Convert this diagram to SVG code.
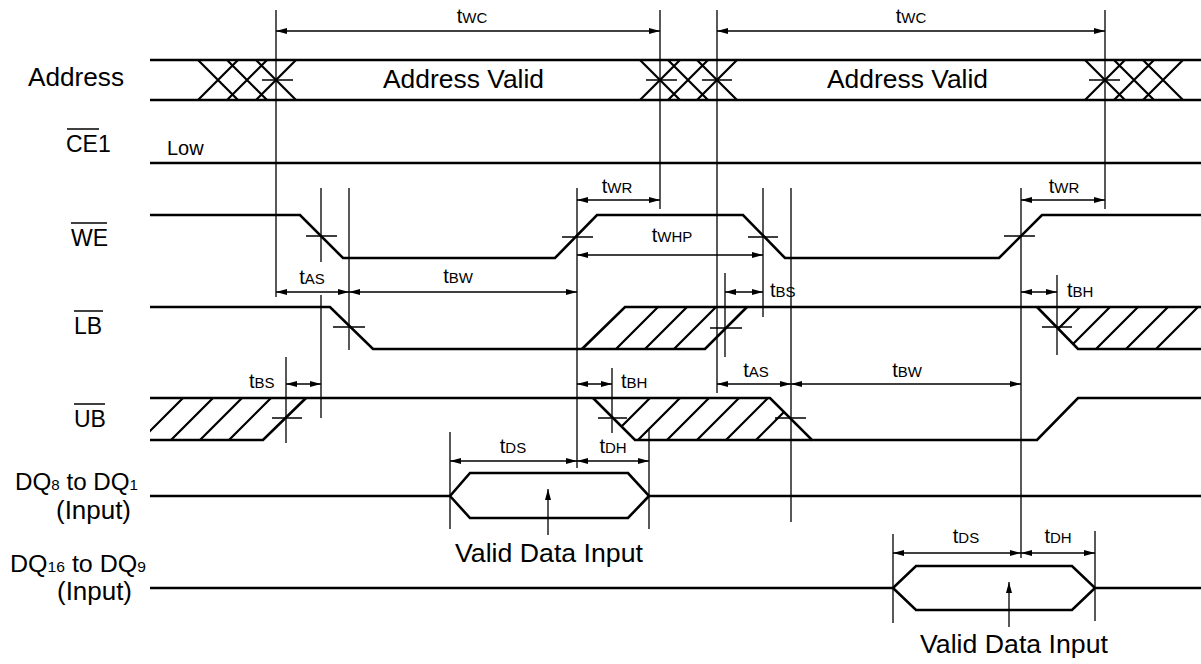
<svg xmlns="http://www.w3.org/2000/svg" width="1201" height="664" viewBox="0 0 1201 664">
<style>
.sig{fill:none;stroke:#000;stroke-width:2.6;stroke-linejoin:miter}
.hat{fill:none;stroke:#000;stroke-width:2.2}
.ref{fill:none;stroke:#000;stroke-width:1.3}
.dim{fill:none;stroke:#000;stroke-width:1.3;marker-start:url(#ah);marker-end:url(#ah)}
.up{fill:none;stroke:#000;stroke-width:1.3;marker-end:url(#ah)}
.ol{stroke:#000;stroke-width:1.5}
text{font-family:"Liberation Sans",Arial,sans-serif;fill:#000}
.lbl{font-size:23px}
.big{font-size:26px}
.t{font-size:20px}
.s{font-size:15px}
</style>
<defs>
<marker id="ah" viewBox="0 0 11 6" refX="11" refY="3" markerWidth="11" markerHeight="6" markerUnits="userSpaceOnUse" orient="auto-start-reverse"><path d="M0,0 L11,3 L0,6 z" fill="#000"/></marker>
<clipPath id="cUB1"><polygon points="150,398 306,398 263,440 150,440"/></clipPath>
<clipPath id="cLB1"><polygon points="582,349 625,307 747,307 705,349"/></clipPath>
<clipPath id="cLB2"><polygon points="1037,307 1201,307 1201,349 1078,349"/></clipPath>
<clipPath id="cUB2"><polygon points="593,398 770,398 812,440 635,440"/></clipPath>
</defs>
<rect width="1201" height="664" fill="#fff"/>

<g id="labels">
<text class="big" x="28" y="86" textLength="96" lengthAdjust="spacingAndGlyphs">Address</text>
<text class="lbl" x="66" y="152">CE1</text><line class="ol" x1="67" y1="129" x2="99" y2="129"/>
<text class="lbl" x="71" y="246">WE</text><line class="ol" x1="71" y1="223" x2="107" y2="223"/>
<text class="lbl" x="74" y="334">LB</text><line class="ol" x1="74" y1="311" x2="103" y2="311"/>
<text class="lbl" x="74" y="427">UB</text><line class="ol" x1="74" y1="404" x2="105" y2="404"/>
<text x="15" y="490" font-size="24" textLength="123" lengthAdjust="spacingAndGlyphs">DQ<tspan class="s">8</tspan> to DQ<tspan class="s">1</tspan></text>
<text class="big" x="56" y="519" textLength="75" lengthAdjust="spacingAndGlyphs">(Input)</text>
<text x="10" y="572" font-size="24" textLength="136" lengthAdjust="spacingAndGlyphs">DQ<tspan class="s">16</tspan> to DQ<tspan class="s">9</tspan></text>
<text class="big" x="57" y="600" textLength="75" lengthAdjust="spacingAndGlyphs">(Input)</text>
</g>

<g id="address">
<line class="sig" x1="150" y1="60" x2="1201" y2="60"/>
<line class="sig" x1="150" y1="100" x2="1201" y2="100"/>
<path class="hat" d="M198,60 L238,100 M198,100 L238,60 M227,60 L267,100 M227,100 L267,60 M256,60 L296,100 M256,100 L296,60"/>
<path class="hat" d="M640,60 L680,100 M640,100 L680,60 M668,60 L708,100 M668,100 L708,60 M697,60 L737,100 M697,100 L737,60"/>
<path class="hat" d="M1085,60 L1125,100 M1085,100 L1125,60 M1114,60 L1154,100 M1114,100 L1154,60 M1143,60 L1183,100 M1143,100 L1183,60"/>
<text class="big" x="383" y="88" textLength="161" lengthAdjust="spacingAndGlyphs">Address Valid</text>
<text class="big" x="827" y="88" textLength="161" lengthAdjust="spacingAndGlyphs">Address Valid</text>
</g>

<g id="ce1">
<line class="sig" x1="150" y1="163" x2="1201" y2="163"/>
<text x="167" y="155" font-size="20">Low</text>
</g>

<g id="we">
<path class="sig" d="M150,215 L300,215 L343,258 L555,258 L597,215 L743,215 L785,258 L999,258 L1042,215 L1201,215"/>
</g>

<g id="lb">
<g clip-path="url(#cLB1)"><path class="hat" d="M606,359 L668,297 M635,359 L697,297 M664,359 L726,297"/></g>
<g clip-path="url(#cLB2)"><path class="hat" d="M1028,359 L1090,297 M1058,359 L1120,297 M1086,359 L1148,297 M1116,359 L1178,297 M1146,359 L1208,297"/></g>
<path class="sig" d="M150,307 L330,307 L373,349 L705,349 L747,307"/>
<path class="sig" d="M582,349 L625,307 L1201,307"/>
<path class="sig" d="M1037,307 L1078,349 L1201,349"/>
</g>

<g id="ub">
<g clip-path="url(#cUB1)"><path class="hat" d="M131,450 L193,388 M161,450 L223,388 M190,450 L252,388 M219,450 L281,388"/></g>
<g clip-path="url(#cUB2)"><path class="hat" d="M598,450 L660,388 M628,450 L690,388 M657,450 L719,388 M687,450 L749,388 M716,450 L778,388 M746,450 L808,388"/></g>
<path class="sig" d="M150,440 L263,440 L306,398"/>
<path class="sig" d="M150,398 L770,398 L812,440 L1037,440 L1078,398 L1201,398"/>
<path class="sig" d="M593,398 L635,440 L812,440"/>
</g>

<g id="dq8">
<path class="sig" d="M150,496 L450,496 L470,473 L628,473 L649,496 L1201,496 M450,496 L470,518 L628,518 L649,496"/>
<text class="big" x="455" y="562" textLength="188" lengthAdjust="spacingAndGlyphs">Valid Data Input</text>
</g>

<g id="dq16">
<path class="sig" d="M150,588 L893,588 L916,566 L1072,566 L1095,588 L1201,588 M893,588 L916,610 L1072,610 L1095,588"/>
<text class="big" x="920" y="653" textLength="188" lengthAdjust="spacingAndGlyphs">Valid Data Input</text>
</g>

<g id="connectors">
<path class="ref" d="M276,10 V297 M660,10 V209 M717,10 V393 M1105,10 V209 M321,188 V262 M321,295 V418 M349,188 V350 M286,357 V443 M577,188 V468 M763,188 V317 M725,273 V357 M791,188 V522 M612,368 V433 M1021,188 V558 M1057,275 V355 M450,432 V529 M649,430 V529 M893,534 V623 M1095,531 V621"/>
<path class="ref" d="M262,80 H293 M646,80 H677 M702,80 H732 M1089,80 H1120 M306,236 H337 M333,327 H365 M272,418 H302 M562,237 H593 M748,237 H778 M710,328 H742 M598,418 H627 M775,418 H806 M1004,236 H1035 M1042,327 H1072"/>
<line class="dim" x1="276" y1="31" x2="660" y2="31"/>
<line class="dim" x1="717" y1="31" x2="1105" y2="31"/>
<line class="dim" x1="577" y1="200" x2="660" y2="200"/>
<line class="dim" x1="1021" y1="200" x2="1105" y2="200"/>
<line class="dim" x1="577" y1="255" x2="763" y2="255"/>
<line class="dim" x1="276" y1="292" x2="349" y2="292"/>
<line class="dim" x1="349" y1="292" x2="577" y2="292"/>
<line class="dim" x1="725" y1="292" x2="763" y2="292"/>
<line class="dim" x1="1021" y1="292" x2="1057" y2="292"/>
<line class="dim" x1="286" y1="384" x2="321" y2="384"/>
<line class="dim" x1="577" y1="384" x2="612" y2="384"/>
<line class="dim" x1="717" y1="384" x2="791" y2="384"/>
<line class="dim" x1="791" y1="384" x2="1021" y2="384"/>
<line class="dim" x1="450" y1="461" x2="577" y2="461"/>
<line class="dim" x1="577" y1="461" x2="649" y2="461"/>
<line class="dim" x1="893" y1="553" x2="1021" y2="553"/>
<line class="dim" x1="1021" y1="553" x2="1095" y2="553"/>
<line class="up" x1="548" y1="535" x2="548" y2="489"/>
<line class="up" x1="1009" y1="627" x2="1009" y2="582"/>
</g>

<g id="timing-labels">
<text class="t" x="472" y="23" text-anchor="middle">t<tspan class="s">WC</tspan></text>
<text class="t" x="911" y="23" text-anchor="middle">t<tspan class="s">WC</tspan></text>
<text class="t" x="617" y="193" text-anchor="middle">t<tspan class="s">WR</tspan></text>
<text class="t" x="1064" y="193" text-anchor="middle">t<tspan class="s">WR</tspan></text>
<text class="t" x="672" y="242" text-anchor="middle">t<tspan class="s">WHP</tspan></text>
<text class="t" x="312" y="284" text-anchor="middle">t<tspan class="s">AS</tspan></text>
<text class="t" x="458" y="283" text-anchor="middle">t<tspan class="s">BW</tspan></text>
<text class="t" x="770" y="297">t<tspan class="s">BS</tspan></text>
<text class="t" x="1067" y="297">t<tspan class="s">BH</tspan></text>
<text class="t" x="249" y="388">t<tspan class="s">BS</tspan></text>
<text class="t" x="621" y="388">t<tspan class="s">BH</tspan></text>
<text class="t" x="756" y="377" text-anchor="middle">t<tspan class="s">AS</tspan></text>
<text class="t" x="907" y="377" text-anchor="middle">t<tspan class="s">BW</tspan></text>
<text class="t" x="513" y="453" text-anchor="middle">t<tspan class="s">DS</tspan></text>
<text class="t" x="613" y="453" text-anchor="middle">t<tspan class="s">DH</tspan></text>
<text class="t" x="966" y="543" text-anchor="middle">t<tspan class="s">DS</tspan></text>
<text class="t" x="1058" y="543" text-anchor="middle">t<tspan class="s">DH</tspan></text>
</g>
</svg>
